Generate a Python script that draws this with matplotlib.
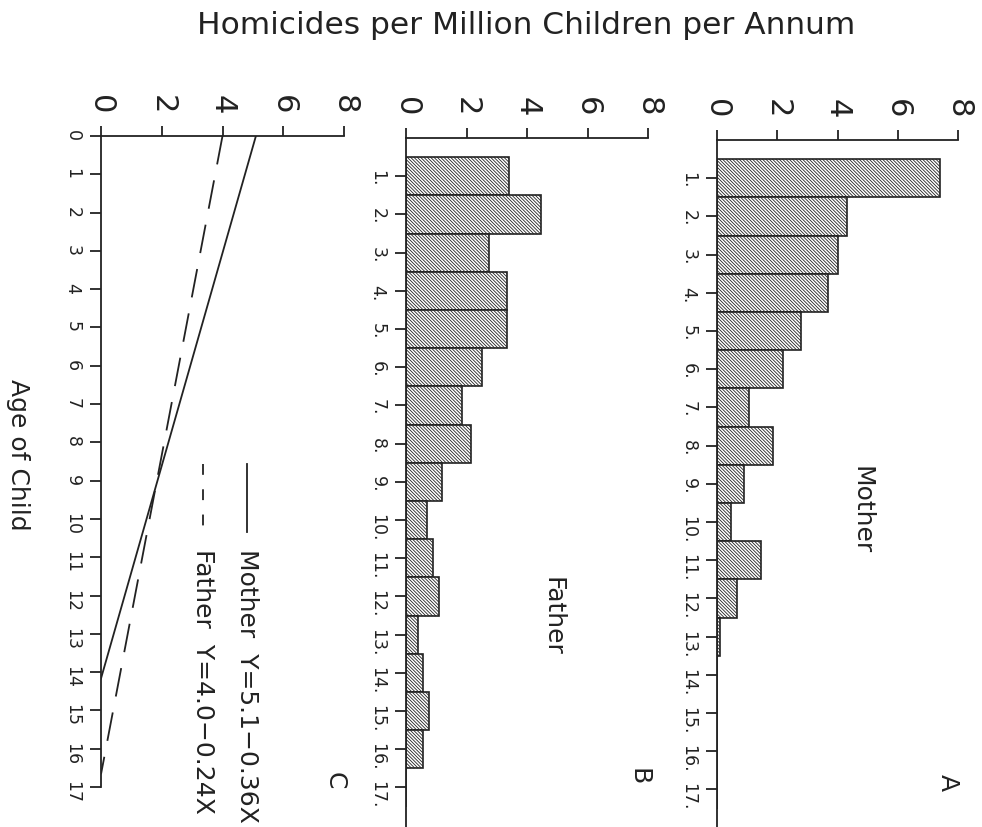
import numpy as np
import matplotlib
matplotlib.use("Agg")
import matplotlib.pyplot as plt

# homicide rates per million children, by age of child
ages = np.arange(1, 18)
mother_rate = [7.4, 4.3, 4.0, 3.7, 2.8, 2.2, 1.05, 1.85, 0.9, 0.45, 1.45, 0.65, 0.1, 0, 0, 0, 0]
father_rate = [3.4, 4.45, 2.75, 3.35, 3.35, 2.5, 1.85, 2.15, 1.2, 0.7, 0.9, 1.1, 0.4, 0.55, 0.75, 0.55, 0]

# regression lines for panel C
mother_fit = (5.1, -0.36)
father_fit = (4.0, -0.24)

ink = "#222222"
plt.rcParams["hatch.linewidth"] = 0.6
plt.rcParams["hatch.color"] = ink
plt.rcParams["text.color"] = ink

W, H = 982, 828
fig = plt.figure(figsize=(W / 100, H / 100), dpi=100)


def px_axes(left, right, top, bottom):
    # axes rectangle from pixel edges
    return fig.add_axes([left / W, 1 - bottom / H, (right - left) / W, (bottom - top) / H])


def style(ax, ymax, ticks, labels):
    ax.set_xlim(0, 8)
    ax.set_ylim(ymax, 0)
    for s in ["right", "bottom"]:
        ax.spines[s].set_visible(False)
    for s in ["left", "top"]:
        ax.spines[s].set_linewidth(1.3)
        ax.spines[s].set_color(ink)
    ax.xaxis.tick_top()
    ax.set_xticks([0, 2, 4, 6, 8])
    ax.set_xticklabels(["0", "2", "4", "6", "8"], rotation=-90, fontsize=22)
    ax.set_yticks(ticks)
    ax.set_yticklabels(labels, rotation=-90, fontsize=12.5)
    ax.tick_params(axis="x", direction="out", length=7, width=1.3, pad=9, colors=ink)
    ax.tick_params(axis="y", direction="out", length=8, width=1.3, pad=6, colors=ink)
    ax.patch.set_alpha(0)


bar_labels = [f"{a}." for a in ages]
hatch = "\\" * 10

# panel A - mother
axA = px_axes(717, 958, 141, 828)
axA.barh(ages, mother_rate, height=1.0, color="white", edgecolor=ink,
         linewidth=1.2, hatch=hatch)
style(axA, 687 / 38.2, ages, bar_labels)
axA.text(4.8, 9.65, "Mother", rotation=-90, fontsize=18, ha="center", va="center")
axA.text(7.65, 16.8, "A", rotation=-90, fontsize=18, ha="center", va="center")

# panel B - father
axB = px_axes(406, 648, 139, 828)
axB.barh(ages, father_rate, height=1.0, color="white", edgecolor=ink,
         linewidth=1.2, hatch=hatch)
style(axB, 689 / 38.2, ages, bar_labels)
axB.text(4.83, 12.5, "Father", rotation=-90, fontsize=18, ha="center", va="center")
axB.text(7.67, 16.7, "B", rotation=-90, fontsize=18, ha="center", va="center")

# panel C - fitted lines
axC = px_axes(101, 344, 137, 788)
for (a, b), ls in [(mother_fit, "-"), (father_fit, (0, (16, 9)))]:
    x_end = -a / b
    xs = np.array([0, x_end])
    axC.plot(a + b * xs, xs, color=ink, linewidth=1.3, linestyle=ls)
style(axC, 17, np.arange(0, 18), [str(a) for a in range(18)])

# legend drawn sideways like the rest of the figure
axC.plot([4.8, 4.8], [8.56, 10.34], color=ink, linewidth=1.3)
axC.plot([3.36, 3.36], [8.56, 10.34], color=ink, linewidth=1.3, linestyle=(0, (6, 8)))
axC.text(4.8, 10.75, "Mother  Y=5.1\u22120.36X", rotation=-90, fontsize=18, ha="center", va="top")
axC.text(3.36, 10.75, "Father  Y=4.0\u22120.24X", rotation=-90, fontsize=18, ha="center", va="top")
axC.text(7.7, 16.8, "C", rotation=-90, fontsize=18, ha="center", va="center")

fig.text(526 / W, 1 - 26 / H, "Homicides per Million Children per Annum",
         fontsize=22.5, ha="center", va="center")
fig.text(18 / W, 1 - 455 / H, "Age of Child", rotation=-90, fontsize=18,
         ha="center", va="center")

fig.savefig("out.png", dpi=100, facecolor="white")
